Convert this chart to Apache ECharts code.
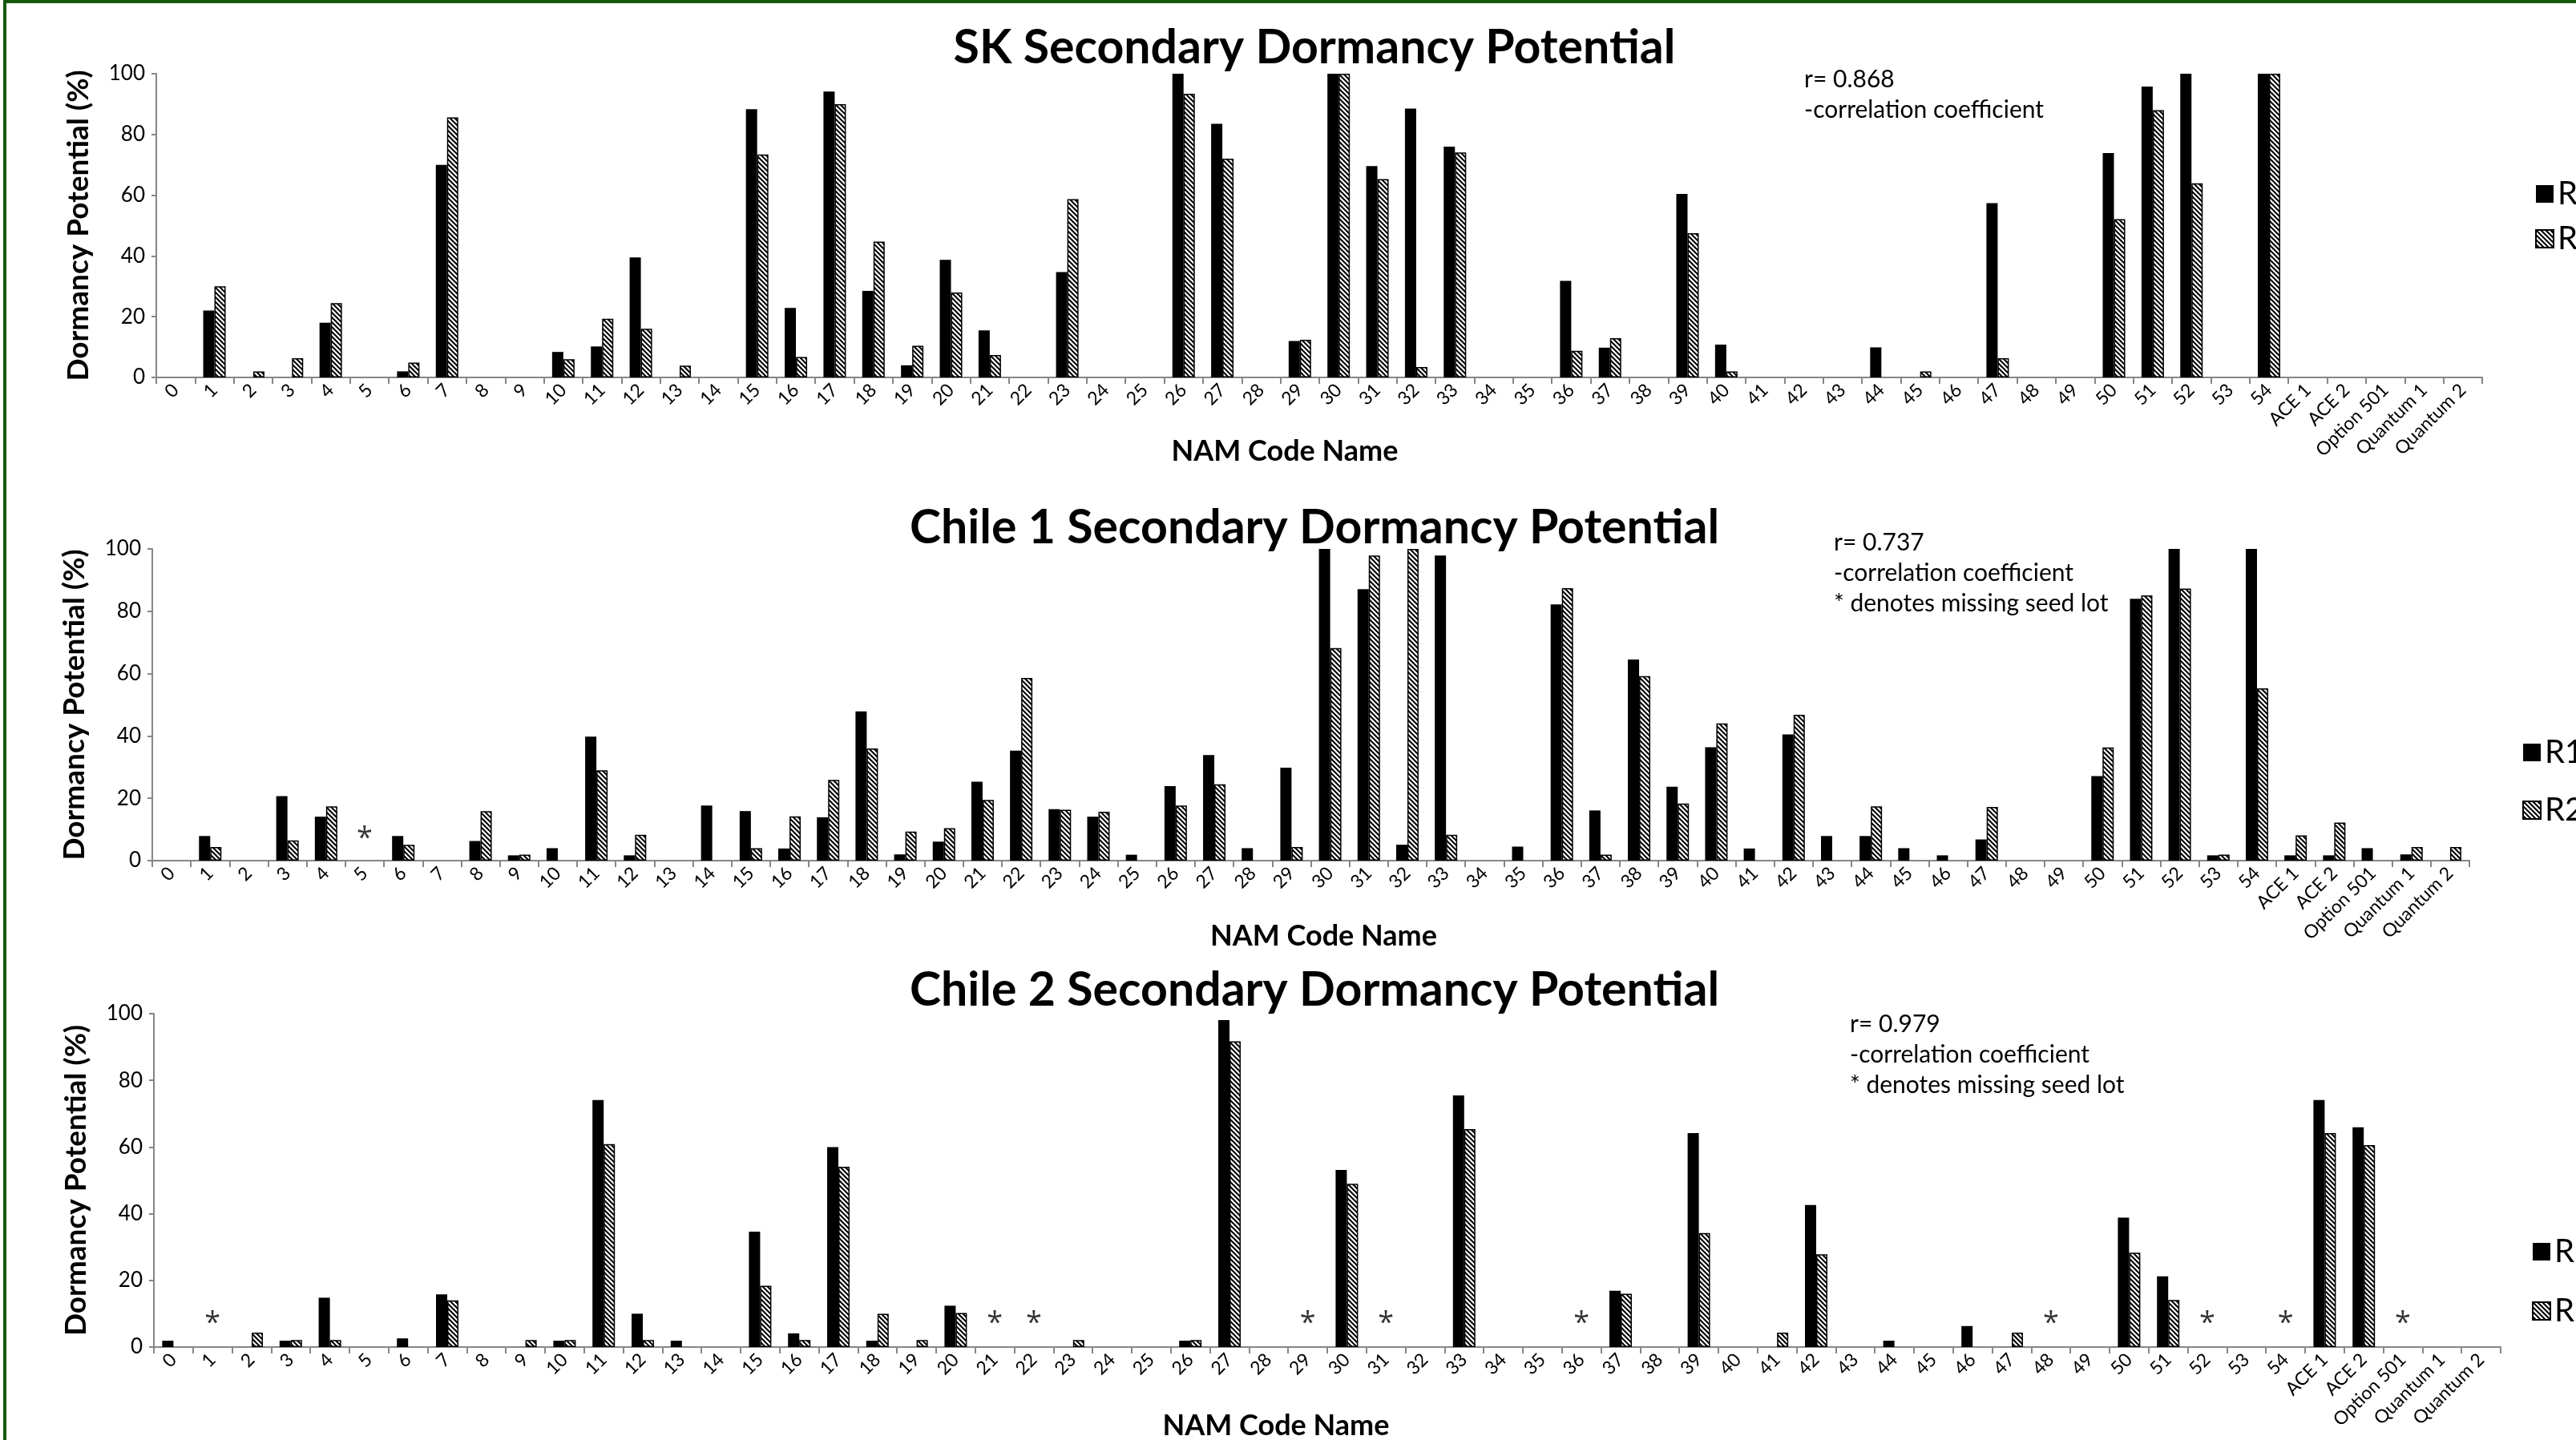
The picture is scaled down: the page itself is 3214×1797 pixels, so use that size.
<!DOCTYPE html>
<html>
<head>
<meta charset="utf-8">
<title>Secondary Dormancy Potential</title>
<script src="https://cdn.jsdelivr.net/npm/echarts@6/dist/echarts.min.js"></script>
<style>
  html, body { margin: 0; padding: 0; background: #fff; }
  #chart { width: 3214px; height: 1797px; }
</style>
</head>
<body>
<div id="chart"></div>
<script>
// NAM code names on the x axis (same for all three panels)
const categories = [
  '0', '1', '2', '3', '4', '5', '6', '7', '8', '9',
  '10', '11', '12', '13', '14', '15', '16', '17', '18', '19',
  '20', '21', '22', '23', '24', '25', '26', '27', '28', '29',
  '30', '31', '32', '33', '34', '35', '36', '37', '38', '39',
  '40', '41', '42', '43', '44', '45', '46', '47', '48', '49',
  '50', '51', '52', '53', '54', 'ACE 1', 'ACE 2', 'Option 501', 'Quantum 1', 'Quantum 2'
]
const yTicks = [0, 20, 40, 60, 80, 100]

// SK
const skR1 = [
  0, 22, 0, 0, 18, 0, 2, 70, 0, 0,
  8.4, 10.2, 39.5, 0, 0, 88.3, 22.9, 94.1, 28.5, 4,
  38.7, 15.5, 0, 34.7, 0, 0, 100, 83.5, 0, 12,
  100, 69.6, 88.5, 76, 0, 0, 31.8, 9.8, 0, 60.4,
  10.8, 0, 0, 0, 9.9, 0, 0, 57.4, 0, 0,
  73.9, 95.8, 100, 0, 100, 0, 0, 0, 0, 0
]
const skR2 = [
  0, 30, 2, 6.3, 24.5, 0, 4.9, 85.6, 0, 0,
  6, 19.3, 16, 3.9, 0, 73.4, 6.7, 90, 44.7, 10.4,
  28, 7.4, 0, 58.7, 0, 0, 93.4, 72, 0, 12.4,
  100, 65.3, 3.4, 74.1, 0, 0, 8.8, 12.9, 0, 47.5,
  2, 0, 0, 0, 0, 2, 0, 6.3, 0, 0,
  52.1, 88, 63.9, 0, 100, 0, 0, 0, 0, 0
]
const skMissing = []

// Chile 1
const chile1R1 = [
  0, 7.9, 0, 20.7, 14.1, 0, 7.9, 0, 6.3, 1.7,
  4, 39.8, 1.7, 0, 17.7, 15.9, 3.9, 13.9, 47.9, 2,
  6.1, 25.3, 35.3, 16.5, 14.1, 1.9, 23.9, 33.9, 4, 29.8,
  100, 87.1, 5.1, 97.9, 0, 4.5, 82.2, 16.1, 64.5, 23.7,
  36.4, 3.9, 40.5, 7.9, 7.9, 4, 1.7, 6.8, 0, 0,
  27.1, 84, 100, 1.7, 100, 1.7, 1.7, 4, 2, 0
]
const chile1R2 = [
  0, 4.4, 0, 6.5, 17.4, 0, 5.1, 0, 15.9, 1.9,
  0, 29, 8.3, 0, 0, 4, 14.2, 25.9, 36, 9.3,
  10.4, 19.5, 58.6, 16.3, 15.7, 0, 17.7, 24.5, 0, 4.4,
  68.2, 97.9, 100, 8.3, 0, 0, 87.4, 1.9, 59.2, 18.3,
  44, 0, 46.8, 0, 17.4, 0, 0, 17.2, 0, 0,
  36.3, 85.1, 87.3, 1.9, 55.3, 8.1, 12.2, 0, 4.4, 4.4
]
const chile1Missing = ['5']

// Chile 2
const chile2R1 = [
  1.9, 0, 0, 1.9, 14.8, 0, 2.6, 15.8, 0, 0,
  1.9, 74.1, 10, 1.9, 0, 34.6, 4.1, 60, 1.9, 0,
  12.4, 0, 0, 0, 0, 0, 1.9, 98.1, 0, 0,
  53.1, 0, 0, 75.5, 0, 0, 0, 16.9, 0, 64.2,
  0, 0, 42.6, 0, 1.9, 0, 6.3, 0, 0, 0,
  38.8, 21.2, 0, 0, 0, 74.1, 65.9, 0, 0, 0
]
const chile2R2 = [
  0, 0, 4.3, 2.1, 2.1, 0, 0, 14, 0, 2.1,
  2.1, 60.9, 2.1, 0, 0, 18.4, 2.1, 54.1, 10, 2.1,
  10.2, 0, 0, 2.1, 0, 0, 2.1, 91.7, 0, 0,
  49, 0, 0, 65.4, 0, 0, 0, 16, 0, 34.2,
  0, 4.3, 27.8, 0, 0, 0, 0, 4.3, 0, 0,
  28.3, 14.1, 0, 0, 0, 64.2, 60.6, 0, 0, 0
]
const chile2Missing = ['1', '21', '22', '29', '31', '36', '48', '52', '54', 'Option 501']

const FONT = 'Lato'

// hatched fill for R2
function makeHatch() {
  const c = document.createElement('canvas')
  c.width = 6
  c.height = 6
  const ctx = c.getContext('2d')
  ctx.fillStyle = '#fff'
  ctx.fillRect(0, 0, 6, 6)
  ctx.strokeStyle = '#000'
  ctx.lineWidth = 2
  ctx.beginPath()
  ctx.moveTo(-1, -1); ctx.lineTo(7, 7)
  ctx.moveTo(-1, 5); ctx.lineTo(1, 7)
  ctx.moveTo(5, -1); ctx.lineTo(7, 1)
  ctx.stroke()
  return c
}
const hatch = { image: makeHatch(), repeat: 'repeat' }

const panels = [
  {
    title: 'SK Secondary Dormancy Potential', r1: skR1, r2: skR2, missing: skMissing,
    note: 'r= 0.868\n-correlation coefficient',
    grid: { left: 195, right: 117, top: 92, bottom: 1326, outerBoundsMode: 'none' },
    nameGap: 74, namePad: [0, 86, 0, 0],
    titleTop: 30, noteX: 2251, noteY: 80, legendLeft: 3163, legendTop: 222, legendGap: 16
  },
  {
    title: 'Chile 1 Secondary Dormancy Potential', r1: chile1R1, r2: chile1R2, missing: chile1Missing,
    note: 'r= 0.737\n-correlation coefficient\n* denotes missing seed lot',
    grid: { left: 190, right: 133, top: 685, bottom: 723, outerBoundsMode: 'none' },
    nameGap: 76, namePad: [0, 0, 0, 32],
    titleTop: 629, noteX: 2288, noteY: 658, legendLeft: 3147, legendTop: 919, legendGap: 32
  },
  {
    title: 'Chile 2 Secondary Dormancy Potential', r1: chile2R1, r2: chile2R2, missing: chile2Missing,
    note: 'r= 0.979\n-correlation coefficient\n* denotes missing seed lot',
    grid: { left: 192, right: 94, top: 1265, bottom: 116, outerBoundsMode: 'none' },
    nameGap: 80, namePad: [0, 128, 0, 0],
    titleTop: 1206, noteX: 2308, noteY: 1259, legendLeft: 3159, legendTop: 1542, legendGap: 34
  }
]

const axisGray = '#868686'
const option = {
  animation: false,
  backgroundColor: '#fff',
  textStyle: { fontFamily: FONT },
  title: [],
  legend: [],
  grid: [],
  xAxis: [],
  yAxis: [],
  series: [],
  graphic: [
    {
      type: 'rect',
      shape: { x: 6, y: 2, width: 3400, height: 2000 },
      style: { fill: 'none', stroke: '#15590f', lineWidth: 4 },
      silent: true
    }
  ]
}

panels.forEach(function (p, i) {
  option.title.push({
    text: p.title,
    left: 1640,
    top: p.titleTop,
    textAlign: 'center',
    padding: 0,
    textStyle: { fontFamily: FONT, fontSize: 59, fontWeight: 'bold', color: '#000' }
  })
  option.legend.push({
    data: ['R1', 'R2'],
    orient: 'vertical',
    left: p.legendLeft,
    top: p.legendTop,
    padding: 0,
    itemGap: p.legendGap,
    itemWidth: 22,
    itemHeight: 22,
    icon: 'rect',
    textStyle: { fontFamily: FONT, fontSize: 40, color: '#000' }
  })
  option.grid.push(p.grid)
  option.xAxis.push({
    type: 'category',
    gridIndex: i,
    data: categories,
    name: 'NAM Code Name',
    nameLocation: 'middle',
    nameGap: p.nameGap,
    nameMoveOverlap: false,
    nameTextStyle: { fontFamily: FONT, fontSize: 36, fontWeight: 'bold', color: '#000', padding: p.namePad },
    axisLine: { lineStyle: { color: axisGray, width: 2 } },
    axisTick: { show: true, interval: 0, length: 8, lineStyle: { color: axisGray, width: 2 } },
    axisLabel: { interval: 0, rotate: 45, margin: 12, fontSize: 23, color: '#000', fontFamily: FONT }
  })
  option.yAxis.push({
    type: 'value',
    gridIndex: i,
    min: yTicks[0],
    max: yTicks[yTicks.length - 1],
    interval: yTicks[1] - yTicks[0],
    name: 'Dormancy Potential (%)',
    nameLocation: 'middle',
    nameRotate: 90,
    nameGap: 78,
    nameMoveOverlap: false,
    nameTextStyle: { fontFamily: FONT, fontSize: 37, fontWeight: 'bold', color: '#000' },
    axisLine: { show: true, lineStyle: { color: axisGray, width: 2 } },
    axisTick: { show: true, length: 6, lineStyle: { color: axisGray, width: 2 } },
    axisLabel: { margin: 14, fontSize: 26, color: '#000', fontFamily: FONT },
    splitLine: { show: false }
  })
  option.series.push({
    name: 'R1',
    type: 'bar',
    xAxisIndex: i,
    yAxisIndex: i,
    barWidth: 14,
    barGap: '0%',
    data: p.r1.map(function (v) { return v === 0 ? '-' : v }),
    itemStyle: { color: '#000' }
  })
  option.series.push({
    name: 'R2',
    type: 'bar',
    xAxisIndex: i,
    yAxisIndex: i,
    barWidth: 14,
    barGap: '0%',
    data: p.r2.map(function (v) { return v === 0 ? '-' : v }),
    itemStyle: { color: hatch, borderColor: '#000', borderWidth: 1.5 }
  })
  // asterisks for missing seed lots
  option.series.push({
    name: 'missing',
    type: 'scatter',
    xAxisIndex: i,
    yAxisIndex: i,
    symbolSize: 1,
    itemStyle: { color: 'rgba(0,0,0,0)' },
    data: p.missing.map(function (c) { return [c, 7] }),
    label: { show: true, position: 'inside', formatter: '*', fontSize: 36, color: '#000', fontFamily: 'Open Sans' }
  })
  option.graphic.push({
    type: 'text',
    x: p.noteX,
    y: p.noteY,
    silent: true,
    style: { text: p.note, font: '30px ' + FONT, fill: '#000', lineHeight: 38 }
  })
})

const chart = echarts.init(document.getElementById('chart'))
chart.setOption(option)
</script>
</body>
</html>
